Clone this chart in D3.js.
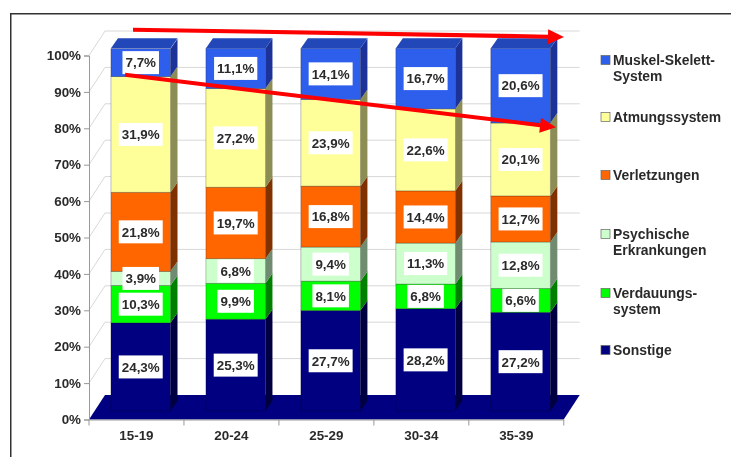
<!DOCTYPE html>
<html>
<head>
<meta charset="utf-8">
<script src="https://cdn.jsdelivr.net/npm/d3@7"></script>
<style>
  html, body { margin: 0; padding: 0; background: #fff; }
  svg { display: block; }
  text { font-family: "Liberation Sans", Arial, sans-serif; font-weight: bold; font-size: 13.4px; fill: #2a2a2a; }
  .legend text { font-size: 13.9px; }
</style>
</head>
<body>
<div id="chart"></div>
<script>
const ageGroups = ['15-19', '20-24', '25-29', '30-34', '35-39'];
const seriesNames = ['Sonstige', 'Verdauung', 'Psychisch', 'Verletzungen', 'Atmung', 'Muskel'];

const sonstige = [24.3, 25.3, 27.7, 28.2, 27.2];
const verdauung = [10.3, 9.9, 8.1, 6.8, 6.6];
const psychisch = [3.9, 6.8, 9.4, 11.3, 12.8];
const verletzungen = [21.8, 19.7, 16.8, 14.4, 12.7];
const atmung = [31.9, 27.2, 23.9, 22.6, 20.1];
const muskel = [7.7, 11.1, 14.1, 16.7, 20.6];

const yTicks = [0, 10, 20, 30, 40, 50, 60, 70, 80, 90, 100];

const frontColors = ['#000080', '#00ff00', '#ccffcc', '#ff6600', '#ffff99', '#2f5fec'];
const sideColors = ['#000040', '#008000', '#6f8c6f', '#7f3300', '#8c8c55', '#1c3399'];

const legendItems = [
    { lines: ['Muskel-Skelett-', 'System'], color: '#2f5fec', cy: 60 },
    { lines: ['Atmungssystem'], color: '#ffff99', cy: 117 },
    { lines: ['Verletzungen'], color: '#ff6600', cy: 175 },
    { lines: ['Psychische', 'Erkrankungen'], color: '#ccffcc', cy: 234 },
    { lines: ['Verdauungs-', 'system'], color: '#00ff00', cy: 293 },
    { lines: ['Sonstige'], color: '#000080', cy: 350 }
];

const width = 731, height = 457;
const wallDx = 16, wallDy = -24.5;   // depth of the back wall
const barDx = 7, barDy = -10;        // depth of a single bar
const barShift = 4.3;

const svg = d3.select('#chart').append('svg')
    .attr('width', width)
    .attr('height', height);

svg.append('defs').append('filter')
    .attr('id', 'soft')
    .attr('x', 0).attr('y', 0).attr('width', 1).attr('height', 1)
    .append('feGaussianBlur')
    .attr('stdDeviation', 0.55);

svg.append('rect').attr('width', width).attr('height', height).attr('fill', '#fff');

const root = svg.append('g').attr('filter', 'url(#soft)');

// frame
root.append('path')
    .attr('d', `M10.5,${height} V13.5 H${width}`)
    .attr('fill', 'none')
    .attr('stroke', '#333')
    .attr('stroke-width', 2);

const x = d3.scaleBand().domain(ageGroups).range([89, 563.7]).padding(0.373).paddingOuter(0.186);
const y = d3.scaleLinear().domain([0, 100]).range([419.5, 55.5]);
const yBar = d3.scaleLinear().domain([0, 100]).range([411, 48.3]);

// grid on floor edge and back wall
const grid = root.append('g');
grid.selectAll('.wall-line')
    .data(yTicks.slice(1))
    .join('path')
    .attr('class', 'wall-line')
    .attr('d', d => `M89,${y(d)} L${89 + wallDx},${y(d) + wallDy} H${563.7 + wallDx}`)
    .attr('fill', 'none')
    .attr('stroke', '#d8d8d8')
    .attr('stroke-width', 1);

root.append('path')
    .attr('d', `M89,${y(0)} H563.7 L${563.7 + wallDx},${y(0) + wallDy} H${89 + wallDx} Z`)
    .attr('fill', '#000080');

// stacked bars
const rows = ageGroups.map((g, i) => ({
    group: g,
    Sonstige: sonstige[i],
    Verdauung: verdauung[i],
    Psychisch: psychisch[i],
    Verletzungen: verletzungen[i],
    Atmung: atmung[i],
    Muskel: muskel[i]
}));
const stacked = d3.stack().keys(seriesNames)(rows);

const bx = d => x(d.data.group) + barShift;

const layers = root.selectAll('.layer')
    .data(stacked)
    .join('g')
    .attr('class', 'layer');

// side faces
layers.selectAll('.side')
    .data(d => d)
    .join('path')
    .attr('class', 'side')
    .attr('d', d => {
        const r = bx(d) + x.bandwidth();
        return `M${r},${yBar(d[1])} l${barDx},${barDy} V${yBar(d[0]) + barDy} l${-barDx},${-barDy} Z`;
    })
    .attr('fill', (d, i, n) => sideColors[stacked.indexOf(d3.select(n[i].parentNode).datum())]);

// front faces
layers.selectAll('.front')
    .data(d => d)
    .join('rect')
    .attr('class', 'front')
    .attr('x', bx)
    .attr('y', d => yBar(d[1]))
    .attr('width', x.bandwidth())
    .attr('height', d => yBar(d[0]) - yBar(d[1]))
    .attr('fill', (d, i, n) => frontColors[stacked.indexOf(d3.select(n[i].parentNode).datum())])
    .attr('stroke', '#000')
    .attr('stroke-opacity', 0.3)
    .attr('stroke-width', 0.8);

// top caps
root.selectAll('.cap')
    .data(stacked[stacked.length - 1])
    .join('path')
    .attr('class', 'cap')
    .attr('d', d => `M${bx(d)},${yBar(100)} l${barDx},${barDy} h${x.bandwidth()} l${-barDx},${-barDy} Z`)
    .attr('fill', '#2446b8');

// value labels
const labels = root.selectAll('.value')
    .data(stacked.flatMap(s => s.map(d => ({ d, v: d[1] - d[0] }))))
    .join('g')
    .attr('class', 'value')
    .attr('transform', o => `translate(${bx(o.d) + x.bandwidth() / 2},${yBar((o.d[0] + o.d[1]) / 2)})`);

labels.append('text')
    .attr('text-anchor', 'middle')
    .attr('dy', '0.36em')
    .text(o => o.v.toFixed(1).replace('.', ',') + '%');

labels.insert('rect', 'text')
    .each(function () {
        const w = this.parentNode.querySelector('text').getComputedTextLength() + 6;
        d3.select(this).attr('x', -w / 2).attr('width', w);
    })
    .attr('y', -11.5)
    .attr('height', 23)
    .attr('fill', '#fff');

// axes
const axisY = root.append('g')
    .attr('transform', 'translate(89,0)')
    .call(d3.axisLeft(y).tickValues(yTicks).tickFormat(d => d + '%').tickSize(5).tickPadding(3));
const axisX = root.append('g')
    .attr('transform', `translate(0,${y(0)})`)
    .call(d3.axisBottom(x).tickSize(0).tickPadding(11));

axisX.selectAll('.tick')
    .attr('transform', d => `translate(${x(d) + x.bandwidth() / 2},0)`);

axisX.selectAll('.boundary')
    .data(d3.range(ageGroups.length + 1))
    .join('line')
    .attr('class', 'boundary')
    .attr('x1', i => 89 + i * x.step())
    .attr('x2', i => 89 + i * x.step())
    .attr('y1', 0)
    .attr('y2', 6)
    .attr('stroke', '#999');

[axisY, axisX].forEach(a => {
    a.selectAll('.domain').attr('stroke', '#999');
    a.selectAll('.tick line').attr('stroke', '#999');
    a.selectAll('text').style('font-size', '13.4px').style('font-family', '"Liberation Sans", Arial, sans-serif').attr('fill', '#333');
});

// legend
const legend = root.selectAll('.legend')
    .data(legendItems)
    .join('g')
    .attr('class', 'legend')
    .attr('transform', d => `translate(601,${d.cy})`);

legend.append('rect')
    .attr('y', -4.5)
    .attr('width', 9)
    .attr('height', 9)
    .attr('fill', d => d.color)
    .attr('stroke', '#666')
    .attr('stroke-width', 0.7);

legend.selectAll('text')
    .data(d => d.lines)
    .join('text')
    .attr('x', 12)
    .attr('y', (d, i) => i * 16)
    .attr('dy', '0.36em')
    .text(d => d);

// red trend arrows
const arrows = [
    { from: [133, 107.1], to: [564, 105.1] },
    { from: [125, 94.7], to: [556, 80.3] }
];
const arrowHead = 16, arrowHalf = 7.5;
arrows.forEach(a => {
    const x0 = a.from[0], y0 = y(a.from[1]), x1 = a.to[0], y1 = y(a.to[1]);
    const ang = Math.atan2(y1 - y0, x1 - x0) * 180 / Math.PI;
    const len = Math.hypot(x1 - x0, y1 - y0);
    root.append('path')
        .attr('transform', `translate(${x0},${y0}) rotate(${ang})`)
        .attr('d', `M0,-2 H${len - arrowHead} V${-arrowHalf} L${len},0 L${len - arrowHead},${arrowHalf} V2 H0 Z`)
        .attr('fill', '#ff0000');
});
</script>
</body>
</html>
